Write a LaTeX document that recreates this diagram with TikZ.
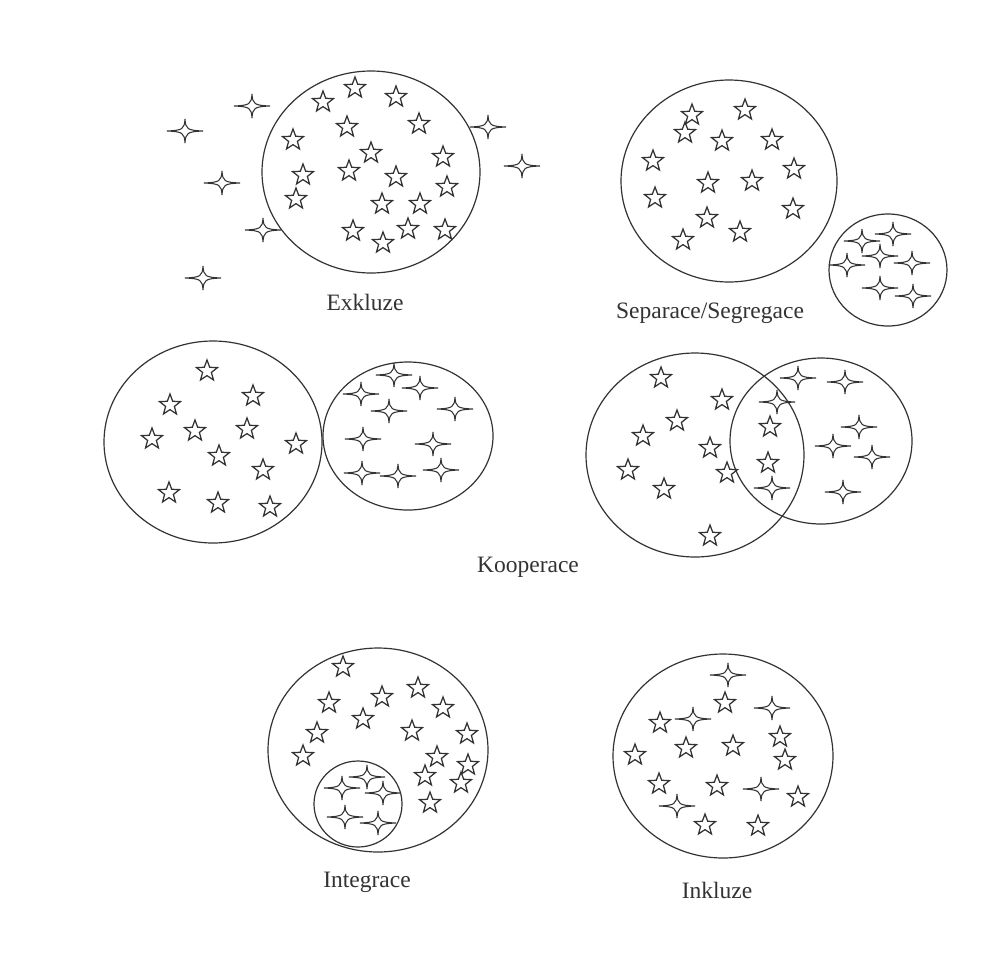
\documentclass[tikz,border=0pt]{standalone}
\usepackage{fontspec}
\setmainfont{Liberation Serif}
\begin{document}
\begin{tikzpicture}[x=1pt,y=-1pt,
  ink/.style={draw=black!80, line width=1.2pt},
  starline/.style={draw=black!80, line width=1.25pt, line join=miter},
  crossline/.style={draw=black!80, line width=1.05pt, fill=white},
  lbl/.style={text=black!80, font=\fontsize{23.5}{27}\selectfont, inner sep=0pt},
  st/.pic={\draw[starline] (90:11pt) -- (126:4.6pt) -- (162:11pt) -- (198:4.6pt) -- (234:11pt) -- (270:4.6pt) -- (306:11pt) -- (342:4.6pt) -- (18:11pt) -- (54:4.6pt) -- cycle;},
  cr/.pic={\draw[crossline] (-18pt,0pt) .. controls (-2pt,0.7pt) and (-0.7pt,2pt) .. (0pt,12pt) .. controls (0.7pt,2pt) and (2pt,0.7pt) .. (18pt,0pt) .. controls (2pt,-0.7pt) and (0.7pt,-2pt) .. (0pt,-12pt) .. controls (-0.7pt,-2pt) and (-2pt,-0.7pt) .. (-18pt,0pt) -- cycle;}
]
\useasboundingbox (0,0) rectangle (998,970);
\fill[white] (0,0) rectangle (998,970);

% ---------- Exkluze ----------
\draw[ink] (371,172) ellipse [x radius=109pt, y radius=101pt];
\foreach \p in {(355,88),(323,102),(396,97),(347,127),(419,124),(293,140),(371,153),(443,157),(303,175),(349,171),(396,177),(447,187),(296,199),(382,204),(420,204),(353,231),(408,229),(445,230),(383,243)}
  \pic at \p {st};
\foreach \p in {(252,106),(185,131),(222,183),(263,230),(203,278),(488,127),(522,166)}
  \pic at \p {cr};
\node[lbl] (exkluze) at (365,302) {Exkluze};

% ---------- Separace/Segregace ----------
\draw[ink] (729,181) ellipse [x radius=108pt, y radius=101pt];
\draw[ink] (888,270) ellipse [x radius=59pt, y radius=56pt];
\foreach \p in {(692,115),(745,110),(685,133),(722,141),(772,140),(653,161),(794,169),(708,183),(752,181),(655,198),(793,209),(707,218),(740,232),(683,240)}
  \pic at \p {st};
\foreach \p in {(862,241),(893,234),(880,256),(847,265),(912,263),(880,288),(913,296)}
  \pic at \p {cr};
\node[lbl] (separace) at (710,313) {Separace/Segregace};

% ---------- Kooperace (left) ----------
\draw[ink] (213,442) ellipse [x radius=109pt, y radius=101pt];
\draw[ink] (408,436) ellipse [x radius=85pt, y radius=74pt];
\foreach \p in {(207,371),(253,396),(170,405),(152,439),(195,431),(247,429),(296,444),(219,456),(263,470),(169,493),(218,503),(270,507)}
  \pic at \p {st};
\foreach \p in {(394,375),(420,388),(361,394),(455,409),(389,411),(363,439),(433,444),(362,473),(398,476),(441,470)}
  \pic at \p {cr};

% ---------- Kooperace (right) ----------
\draw[ink] (695,455) ellipse [x radius=109pt, y radius=102pt];
\draw[ink] (821,441) ellipse [x radius=91pt, y radius=83pt];
\foreach \p in {(661,378),(722,400),(677,421),(643,436),(710,448),(628,470),(727,473),(664,489),(770,427),(768,463),(710,536)}
  \pic at \p {st};
\foreach \p in {(798,378),(845,382),(777,402),(859,427),(833,446),(872,457),(772,488),(843,492)}
  \pic at \p {cr};
\node[lbl] (kooperace) at (528,567) {Kooperace};

% ---------- Integrace ----------
\draw[ink] (378,750) ellipse [x radius=110pt, y radius=102pt];
\draw[ink] (358,804) ellipse [x radius=44pt, y radius=43pt];
\foreach \p in {(343,667),(418,688),(382,697),(329,703),(443,708),(363,719),(317,733),(412,731),(467,734),(303,756),(437,757),(468,765),(425,776),(461,783),(430,803)}
  \pic at \p {st};
\foreach \p in {(367,777),(342,788),(383,793),(345,817),(378,823)}
  \pic at \p {cr};
\node[lbl] (integrace) at (367,882) {Integrace};

% ---------- Inkluze ----------
\draw[ink] (723,756) ellipse [x radius=110pt, y radius=102pt];
\foreach \p in {(725,703),(660,723),(780,737),(686,748),(733,746),(635,755),(785,760),(659,784),(717,786),(798,797),(705,825),(758,826)}
  \pic at \p {st};
\foreach \p in {(728,675),(772,708),(693,719),(761,789),(677,806)}
  \pic at \p {cr};
\node[lbl] (inkluze) at (717,890) {Inkluze};
\end{tikzpicture}
\end{document}
